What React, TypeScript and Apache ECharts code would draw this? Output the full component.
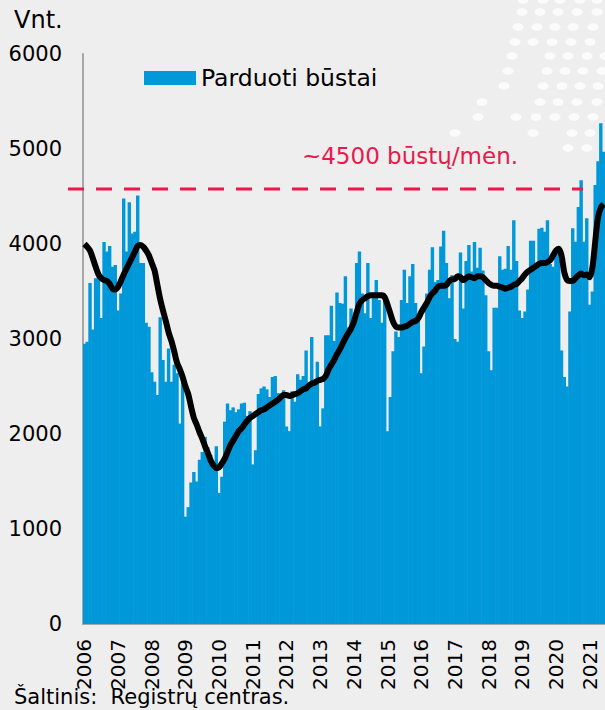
import React, { useEffect, useRef } from 'react';
import * as echarts from 'echarts';

// ---- data ----
const years = [2006, 2007, 2008, 2009, 2010, 2011, 2012, 2013, 2014, 2015, 2016, 2017, 2018, 2019, 2020, 2021];
const monthsShownInLastYear = 6;

const categories: string[] = [];
years.forEach((y, yi) => {
  const n = yi === years.length - 1 ? monthsShownInLastYear : 12;
  for (let m = 1; m <= n; m++) categories.push(`${y}-${String(m).padStart(2, '0')}`);
});

const barSeriesName = 'Parduoti būstai';
const soldHomes = [
  2950, 2970, 3590, 3100, 3640, 3660, 3220, 4020, 3920, 3980, 3760, 3780,
  3300, 3480, 4480, 3920, 4440, 4110, 4130, 4510, 3800, 3800, 3170, 3130,
  2650, 2550, 2410, 3230, 2780, 2550, 2900, 2550, 2730, 2640, 2110, 2570,
  1130, 1230, 1490, 1600, 1500, 1730, 1810, 1970, 1860, 1780, 1650, 1870,
  1380, 1550, 2130, 2320, 2250, 2280, 2230, 2260, 2320, 2330, 2190, 2240,
  1680, 1830, 2420, 2480, 2500, 2470, 2390, 2600, 2610, 2430, 2380, 2460,
  2080, 2030, 2450, 2340, 2630, 2570, 2610, 2880, 2480, 3020, 2570, 2760,
  2080, 2270, 3040, 3040, 3350, 2980, 3490, 3380, 3370, 3660, 3120, 3320,
  3200, 3800, 3920, 3480, 3270, 3800, 3220, 3450, 3620, 3410, 3170, 3450,
  2030, 2390, 2870, 3080, 3020, 3410, 3730, 3380, 3660, 3790, 3380, 3240,
  2640, 2920, 3480, 3730, 3965, 3600, 3620, 3975, 4140, 3800, 3430, 3670,
  3000, 2970, 3910, 3320, 3820, 3990, 3710, 4020, 3750, 3960, 3720, 3460,
  2870, 2670, 3330, 3330, 3870, 3730, 3740, 3980, 3730, 4250, 3820, 3300,
  3220, 3290, 3520, 4035, 4035, 3760, 4160, 4170, 4130, 4250, 3790, 3760,
  3950, 3900, 2880, 2600, 2500, 3290, 4165, 4024, 4390, 4670, 4024, 4270,
  3360, 3500, 4620, 4870, 5270, 4970,
];

const trendLine = [
  4000, 3970, 3930, 3850, 3760, 3680, 3640, 3620, 3610, 3580, 3530, 3520,
  3550, 3610, 3680, 3740, 3800, 3860, 3920, 3980, 3990, 3970, 3930, 3880,
  3800, 3720, 3570, 3420, 3300, 3190, 3070, 2980, 2870, 2750, 2680, 2600,
  2500, 2420, 2290, 2170, 2100, 2020, 1950, 1870, 1800, 1720, 1670, 1640,
  1650, 1690, 1740, 1810, 1880, 1930, 1980, 2030, 2060, 2100, 2140, 2170,
  2190, 2210, 2230, 2250, 2260, 2280, 2300, 2320, 2340, 2360, 2390, 2410,
  2410, 2400, 2410, 2420, 2430, 2450, 2470, 2480, 2510, 2530, 2540, 2560,
  2570, 2580, 2610, 2680, 2730, 2780, 2840, 2890, 2950, 3010, 3060, 3110,
  3180, 3280, 3370, 3410, 3430, 3450, 3460, 3460, 3460, 3460, 3460, 3440,
  3360, 3270, 3180, 3130, 3120, 3120, 3130, 3140, 3160, 3180, 3190, 3220,
  3280, 3330, 3380, 3440, 3480, 3510, 3550, 3560, 3560, 3570, 3610, 3630,
  3630, 3660, 3650, 3620, 3640, 3660, 3650, 3640, 3660, 3660, 3650, 3620,
  3590, 3570, 3560, 3560, 3550, 3540, 3530, 3540, 3550, 3570, 3580, 3610,
  3640, 3680, 3710, 3730, 3750, 3770, 3790, 3800, 3800, 3810, 3830, 3880,
  3930, 3950, 3880, 3700, 3620, 3610, 3610, 3640, 3670, 3690, 3670, 3680,
  3650, 3750, 4020, 4280, 4380, 4420,
];

const yMin = 0;
const yMax = 6000;
const yInterval = 1000;
const thresholdValue = 4580;
const thresholdLabel = '~4500 būstų/mėn.';
const unitLabel = 'Vnt.';
const sourceLabel = 'Šaltinis:  Registrų centras.';

// decorative dot pattern (top right background)
const dotRows: [number, number[]][] = [
  [0, [523, 543, 560, 580, 597]],
  [12, [522, 540, 558, 577, 597]],
  [27, [518, 537, 555, 573, 593]],
  [42, [515, 533, 552, 571, 590]],
  [56, [512, 550, 568, 587, 605]],
  [71, [508, 547, 565, 583, 602]],
  [86, [504, 543, 562, 580, 598]],
  [102, [482, 540, 558, 577, 597]],
  [117, [478, 516, 536, 555, 574, 593]],
  [133, [455, 533, 572, 590]],
  [148, [568, 587]],
];

const FONT = "'DejaVu Sans', Verdana, sans-serif";
const BG = '#eeeeee';
const BAR_COLOR = '#0098d8';
const RED = '#e8194d';

export default function App() {
  const ref = useRef<HTMLDivElement>(null);

  useEffect(() => {
    if (!ref.current) return;
    const chart = echarts.init(ref.current, null, { renderer: 'svg' });
    chart.setOption({
      animation: false,
      backgroundColor: BG,
      textStyle: { fontFamily: FONT },
      grid: { left: 83, right: 0, top: 54, bottom: 86 },
      legend: {
        data: [barSeriesName],
        left: 139,
        top: 61,
        itemWidth: 52,
        itemHeight: 14,
        icon: 'rect',
        textStyle: { fontSize: 23.5, color: '#000', fontFamily: FONT },
      },
      xAxis: {
        type: 'category',
        data: categories,
        boundaryGap: true,
        axisLine: { show: true, lineStyle: { color: '#a6a6a6', width: 2 } },
        axisTick: { show: false },
        axisLabel: {
          interval: (index: number) => index % 12 === 0,
          rotate: 90,
          fontSize: 20,
          color: '#000',
          margin: 15,
          fontFamily: FONT,
          formatter: (v: string) => v.slice(0, 4),
        },
        splitLine: { show: false },
      },
      yAxis: {
        type: 'value',
        min: yMin,
        max: yMax,
        interval: yInterval,
        axisLine: { show: true, lineStyle: { color: '#a6a6a6', width: 2 } },
        axisTick: { show: false },
        splitLine: { show: false },
        axisLabel: {
          fontSize: 21,
          color: '#000',
          margin: 21,
          fontFamily: FONT,
          formatter: (v: number) => String(v),
        },
      },
      series: [
        {
          name: barSeriesName,
          type: 'bar',
          data: soldHomes,
          barWidth: 3.4,
          itemStyle: { color: BAR_COLOR },
          z: 2,
        },
        {
          name: 'trend',
          type: 'line',
          data: trendLine,
          symbol: 'none',
          showSymbol: false,
          smooth: 0.3,
          lineStyle: { color: '#000', width: 6 },
          z: 3,
        },
      ],
    });

    const yPx = chart.convertToPixel({ yAxisIndex: 0 }, thresholdValue) as number;
    const dots: any[] = [];
    dotRows.forEach(([y, xs]) => {
      xs.forEach((x) => {
        dots.push({
          type: 'ellipse',
          shape: { cx: x, cy: y, rx: 5.5, ry: 3.8 },
          style: { fill: '#ffffff', opacity: 0.75 },
          z: 0,
          silent: true,
        });
      });
    });

    chart.setOption({
      graphic: [
        ...dots,
        {
          type: 'line',
          shape: { x1: 68, y1: yPx, x2: 583, y2: yPx },
          style: { stroke: RED, lineWidth: 3, lineDash: [16, 12] },
          z: 10,
        },
        {
          type: 'text',
          x: 410,
          y: yPx - 33,
          style: {
            text: thresholdLabel,
            fill: RED,
            fontSize: 23,
            fontFamily: FONT,
            align: 'center',
            verticalAlign: 'middle',
          },
          z: 10,
        },
        {
          type: 'text',
          x: 14,
          y: 20,
          style: {
            text: unitLabel,
            fill: '#000',
            fontSize: 24,
            fontFamily: FONT,
            align: 'left',
            verticalAlign: 'middle',
          },
          z: 10,
        },
        {
          type: 'text',
          x: 14,
          y: 697,
          style: {
            text: sourceLabel,
            fill: '#000',
            fontSize: 21,
            fontFamily: FONT,
            align: 'left',
            verticalAlign: 'middle',
          },
          z: 10,
        },
      ],
    });

    return () => chart.dispose();
  }, []);

  return (
    <div style={{ position: 'fixed', left: 0, top: 0, width: 605, height: 710, overflow: 'hidden', background: BG }}>
      <div ref={ref} style={{ width: 605, height: 710 }} />
    </div>
  );
}
